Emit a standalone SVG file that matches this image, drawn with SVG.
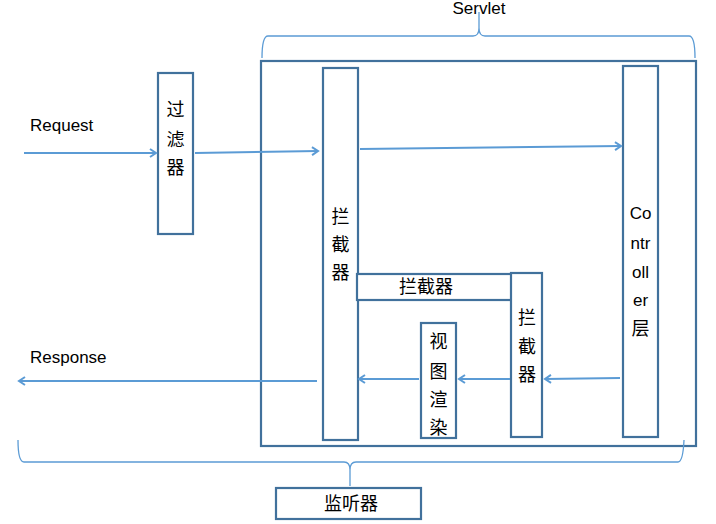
<svg xmlns="http://www.w3.org/2000/svg" width="716" height="524" viewBox="0 0 716 524">
<defs>
<style>
.box{fill:#fff;stroke:#41719C;stroke-width:2.2}
.arr{fill:none;stroke:#5B9BD5;stroke-width:2;marker-end:url(#ah)}
.brace{fill:none;stroke:#5B9BD5;stroke-width:1.3}
.lat{font-family:"Liberation Sans","Noto Sans",sans-serif;font-size:17px;fill:#000}
.cjk{font-family:"Noto Sans CJK SC",sans-serif;font-size:18px;fill:#000;text-anchor:middle}
.ctl{font-family:"Liberation Sans","Noto Sans CJK SC",sans-serif;font-size:17px;fill:#000;text-anchor:middle}
</style>
<marker id="ah" markerWidth="10" markerHeight="10" refX="8" refY="5" orient="auto" markerUnits="userSpaceOnUse">
<path d="M2,1 L8,5 L2,9" fill="none" stroke="#5B9BD5" stroke-width="2"/>
</marker>
</defs>
<rect width="716" height="524" fill="#fff"/>
<g id="servlet">
<rect class="box" x="261" y="61" width="435" height="385"/>
<path class="brace" d="M262,58 Q262,36 268,36 L473,36 Q479,36 479,28 L479,12 M479,28 Q479,36 485,36 L689,36 Q695,36 695,58"/>
<text class="lat" x="479" y="14" text-anchor="middle">Servlet</text>
</g>
<g id="filter">
<rect class="box" x="158" y="73" width="35" height="161"/>
<text class="cjk" x="175.500" y="116">过</text>
<text class="cjk" x="175.500" y="146">滤</text>
<text class="cjk" x="175.500" y="174">器</text>
</g>
<g id="interceptor-left">
<rect class="box" x="323" y="68" width="35" height="372"/>
<text class="cjk" x="340.500" y="223">拦</text>
<text class="cjk" x="340.500" y="251">截</text>
<text class="cjk" x="340.500" y="279">器</text>
</g>
<g id="controller">
<rect class="box" x="623" y="66" width="35" height="371"/>
<text class="ctl" x="640.500" y="219">Co</text>
<text class="ctl" x="640.500" y="249">ntr</text>
<text class="ctl" x="640.500" y="278">oll</text>
<text class="ctl" x="640.500" y="306">er</text>
<text class="cjk" x="640.500" y="335">层</text>
</g>
<g id="interceptor-top">
<rect class="box" x="357" y="274" width="155" height="26"/>
<text class="cjk" x="426" y="293">拦截器</text>
</g>
<g id="interceptor-right">
<rect class="box" x="511" y="273" width="31" height="164"/>
<text class="cjk" x="527" y="324">拦</text>
<text class="cjk" x="527" y="353">截</text>
<text class="cjk" x="527" y="381">器</text>
</g>
<g id="view">
<rect class="box" x="421" y="323" width="35" height="115"/>
<text class="cjk" x="438.500" y="348">视</text>
<text class="cjk" x="438.500" y="378">图</text>
<text class="cjk" x="438.500" y="406">渲</text>
<text class="cjk" x="438.500" y="434">染</text>
</g>
<g id="listener">
<rect class="box" x="276" y="488" width="145" height="31"/>
<path class="brace" d="M18,440 Q18,462 24,462 L344,462 Q350,462 350,470 L350,486 M350,470 Q350,462 356,462 L678,462 Q683,462 684,440"/>
<text class="cjk" x="351" y="510">监听器</text>
</g>
<g id="labels">
<text class="lat" x="30" y="131">Request</text>
<text class="lat" x="30" y="363">Response</text>
</g>
<g id="connectors">
<path class="arr" d="M24,153 L156,153"/>
<path class="arr" d="M195,153 L318,151"/>
<path class="arr" d="M360,149 L621,146"/>
<path class="arr" d="M620,378 L545,379"/>
<path class="arr" d="M510,379 L459,379"/>
<path class="arr" d="M419,379 L359,379"/>
<path class="arr" d="M317,381 L19,381"/>
</g>
</svg>
